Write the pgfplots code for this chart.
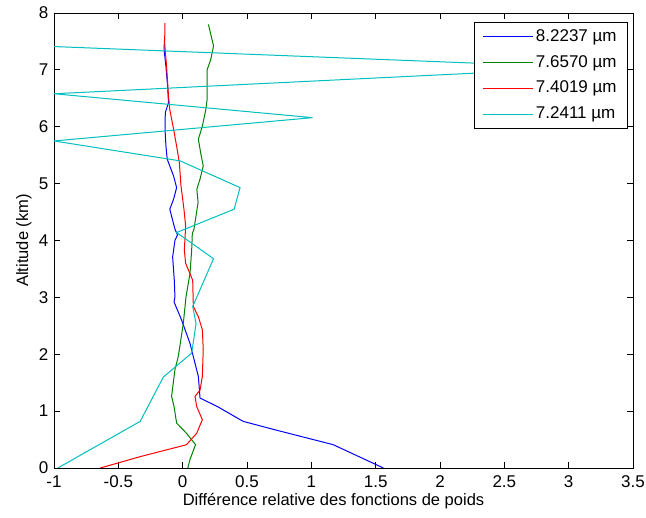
\documentclass[border=0pt]{standalone}
\usepackage{fontspec}
\setmainfont{Liberation Sans}
\usepackage{pgfplots}
\pgfplotsset{compat=1.18}
\definecolor{mblue}{rgb}{0,0,1}
\definecolor{mgreen}{rgb}{0,0.5,0}
\definecolor{mred}{rgb}{1,0,0}
\definecolor{mcyan}{rgb}{0,0.75,0.75}
\begin{document}
\fontsize{16.5}{19}\selectfont
\begin{tikzpicture}
\path[use as bounding box] (-54pt,-50pt) rectangle (592pt,468pt);
\begin{axis}[
  at={(0,0)}, anchor=south west,
  scale only axis, width=579pt, height=455pt,
  xmin=-1, xmax=3.5, ymin=0, ymax=8,
  xtick={-1,-0.5,0,0.5,1,1.5,2,2.5,3,3.5},
  xticklabels={-1,-0.5,0,0.5,1,1.5,2,2.5,3,3.5},
  ytick={0,1,2,3,4,5,6,7,8},
  tick align=inside, tick pos=both,
  major tick length=6pt,
  tick style={black, line width=0.8pt},
  axis line style={line width=0.8pt},
  /pgf/number format/assume math mode=true,
  tick label style={font=\fontsize{17}{19}\selectfont},
  xticklabel style={yshift=-2pt},
  xlabel={Différence relative des fonctions de poids},
  ylabel={Altitude (km)},
  label style={font=\fontsize{16.5}{19}\selectfont},
  xlabel style={yshift=6pt, xshift=-10pt},
  ylabel style={yshift=-4pt},
  clip=true,
  legend cell align=left,
  legend style={at={(1,1)}, anchor=north east, xshift=-5pt, yshift=-9pt,
    font=\fontsize{17}{19}\selectfont, draw=black, line width=0.8pt,
    inner xsep=9pt, inner ysep=5pt, row sep=7.5pt},
  legend image code/.code={\draw[#1, line width=1pt] (0pt,0pt) -- (50pt,0pt);},
  every axis plot/.append style={line width=1pt},
]
\addplot[mblue] coordinates {
(1.56,0) (1.17,0.41) (0.72,0.67) (0.47,0.82) (0.27,1.08) (0.135,1.23) (0.122,1.61) (0.096,1.84) (0.057,2.19) (-0.008,2.6) (-0.067,2.92) (-0.06,3.01) (-0.065,3.3) (-0.078,3.71) (-0.06,4.0) (-0.04,4.1) (-0.06,4.2) (-0.1,4.55) (-0.07,4.73) (-0.047,4.93) (-0.07,5.13) (-0.12,5.43) (-0.13,5.66) (-0.137,5.95) (-0.135,6.25) (-0.11,6.42) (-0.117,6.71) (-0.13,7.06) (-0.145,7.36) (-0.14,7.57)
};
\addlegendentry{8.2237 µm}
\addplot[mgreen] coordinates {
(0.04,0) (0.057,0.15) (0.1,0.41) (0.03,0.61) (-0.047,0.79) (-0.067,1.08) (-0.086,1.26) (-0.06,1.73) (-0.034,1.96) (0.005,2.54) (0.026,3.01) (0.057,3.42) (0.07,3.83) (0.075,4.12) (0.088,4.2) (0.12,4.67) (0.11,4.9) (0.135,5.08) (0.16,5.31) (0.14,5.54) (0.122,5.78) (0.153,6.01) (0.18,6.3) (0.19,6.48) (0.19,7.0) (0.218,7.18) (0.24,7.42) (0.2,7.8)
};
\addlegendentry{7.6570 µm}
\addplot[mred] coordinates {
(-0.64,0) (-0.33,0.2) (-0.02,0.38) (0.03,0.41) (0.109,0.61) (0.153,0.85) (0.109,1.08) (0.096,1.26) (0.135,1.37) (0.153,1.61) (0.16,2.08) (0.153,2.43) (0.122,2.66) (0.083,2.84) (0.078,3.3) (0.023,3.6) (0.013,3.83) (0.02,4.12) (0.023,4.26) (0.01,4.55) (-0.013,4.96) (-0.026,5.37) (-0.047,5.66) (-0.07,5.95) (-0.1,6.3) (-0.11,6.54) (-0.125,7.06) (-0.14,7.47) (-0.138,7.82)
};
\addlegendentry{7.4019 µm}
\addplot[mcyan] coordinates {
(-0.97,0) (-0.33,0.82) (-0.15,1.6) (0.07,2.02) (0.104,2.54) (0.078,2.84) (0.24,3.68) (-0.047,4.14) (0.4,4.55) (0.446,4.93) (-0.02,5.4) (-1.0,5.75) (1.01,6.16) (-1.0,6.58) (3.15,7.04) (-1.0,7.41)
};
\addlegendentry{7.2411 µm}
\end{axis}
\end{tikzpicture}
\end{document}
